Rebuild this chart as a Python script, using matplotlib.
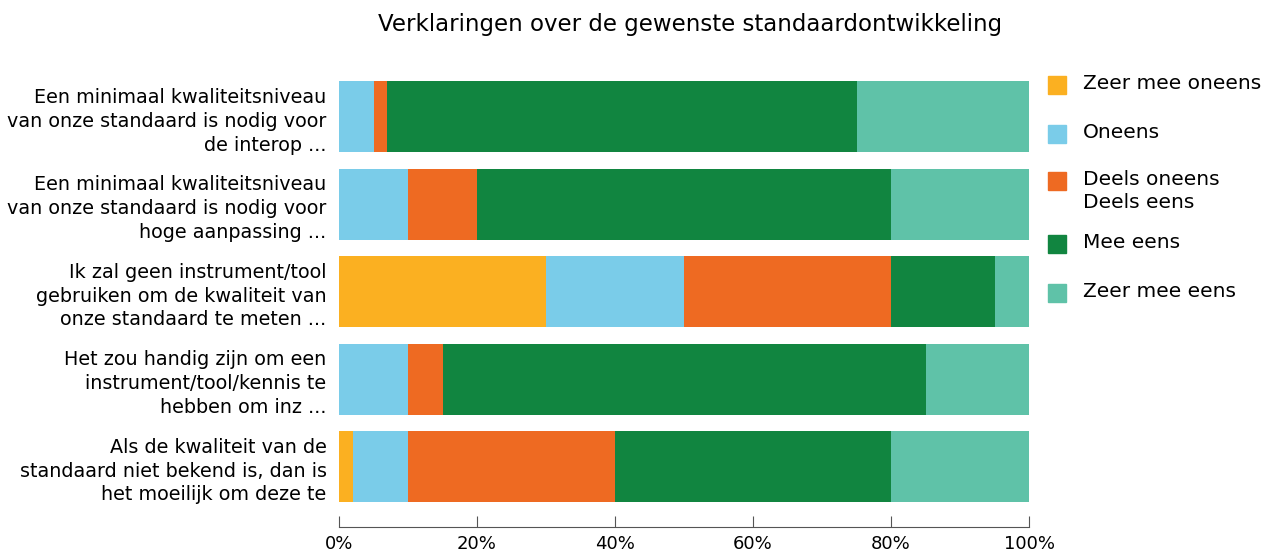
import matplotlib

matplotlib.use("Agg")
import matplotlib.pyplot as plt
import numpy as np
from matplotlib.patches import Rectangle

questions = [
    "Een minimaal kwaliteitsniveau\nvan onze standaard is nodig voor\nde interop ...",
    "Een minimaal kwaliteitsniveau\nvan onze standaard is nodig voor\nhoge aanpassing ...",
    "Ik zal geen instrument/tool\ngebruiken om de kwaliteit van\nonze standaard te meten ...",
    "Het zou handig zijn om een\ninstrument/tool/kennis te\nhebben om inz ...",
    "Als de kwaliteit van de\nstandaard niet bekend is, dan is\nhet moeilijk om deze te",
]
categories = ["Zeer mee oneens", "Oneens", "Deels oneens\nDeels eens", "Mee eens", "Zeer mee eens"]
zeer_oneens = [0, 0, 30, 0, 2]
oneens = [5, 10, 20, 10, 8]
deels = [2, 10, 30, 5, 30]
mee_eens = [68, 60, 15, 70, 40]
zeer_eens = [25, 20, 5, 15, 20]
xticks = [0, 20, 40, 60, 80, 100]

colors = ["#FBB021", "#7ACCE9", "#EE6A22", "#118540", "#5FC2A8"]

W, H = 1262, 558
fig = plt.figure(figsize=(W / 100, H / 100), dpi=100)
ax = fig.add_axes([339 / W, 1 - 527 / H, 690 / W, 446 / H])

ys = np.arange(len(questions))
left = np.zeros(len(questions))
for vals, label, color in zip([zeer_oneens, oneens, deels, mee_eens, zeer_eens], categories, colors):
    ax.barh(ys, vals, left=left, height=0.81, color=color, label=label)
    left += np.array(vals)

ax.set_xlim(0, 100)
ax.set_ylim(4.69, -0.41)
ax.set_yticks(ys)
ax.set_yticklabels(questions, fontsize=13.8, linespacing=1.32)
ax.tick_params(axis="y", length=0, pad=9)
ax.set_xticks(xticks)
ax.set_xticklabels([f"{t}%" for t in xticks], fontsize=13)
ax.tick_params(axis="x", direction="in", length=8, color="#555555", pad=6)
for side in ["top", "right", "left"]:
    ax.spines[side].set_visible(False)
ax.spines["bottom"].set_color("#555555")

fig.text(690 / W, 1 - 24 / H, "Verklaringen over de gewenste standaardontwikkeling",
         ha="center", va="center", fontsize=16.5)

# legend drawn by hand: the two-line entry keeps its swatch on the first line
legend_y = [85, 134, 181, 244, 293]
for y, label, color in zip(legend_y, categories, colors):
    fig.add_artist(Rectangle((1048 / W, 1 - (y + 9) / H), 18 / W, 18 / H,
                             transform=fig.transFigure, color=color))
    fig.text(1083 / W, 1 - (y - 11) / H, label, ha="left", va="top",
             fontsize=14.5, linespacing=1.3)

fig.savefig("out.png", dpi=100)
